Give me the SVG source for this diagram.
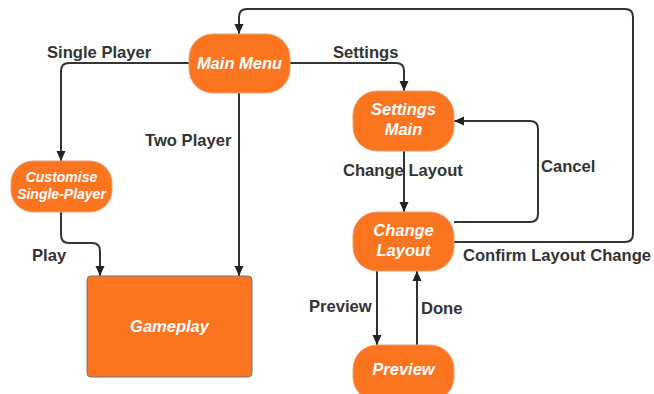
<svg xmlns="http://www.w3.org/2000/svg" width="654" height="394" viewBox="0 0 654 394">
<style>
.node{fill:#FB7420;stroke:#E8A070;stroke-width:1}
.nt{font-family:"Liberation Sans",Arial,sans-serif;font-weight:bold;font-style:italic;fill:#fff;text-anchor:middle}
.lbl{font-family:"Liberation Sans",Arial,sans-serif;font-weight:bold;font-size:16.6px;fill:#333}
.c{fill:none;stroke:#333;stroke-width:2}
</style>
<defs>
<marker id="ah" viewBox="0 0 10 10" refX="10" refY="5" markerWidth="10" markerHeight="10" markerUnits="userSpaceOnUse" orient="auto">
<path d="M0,0.5 L10,5 L0,9.5 Z" fill="#222"/>
</marker>
</defs>
<rect width="654" height="394" fill="#fff"/>
<g id="connectors">
<path class="c" marker-end="url(#ah)" d="M454,242 H625 Q633,242 633,234 V17 Q633,9 625,9 H247 Q239,9 239,17 V34"/>
<path class="c" marker-end="url(#ah)" d="M189,63 H69 Q61,63 61,71 V161"/>
<path class="c" marker-end="url(#ah)" d="M290,63 H396 Q404,63 404,71 V91"/>
<path class="c" marker-end="url(#ah)" d="M239,93 V276"/>
<path class="c" marker-end="url(#ah)" d="M61,212 V235 Q61,243 69,243 H92 Q100,243 100,251 V276"/>
<path class="c" marker-end="url(#ah)" d="M404,151 V212"/>
<path class="c" marker-end="url(#ah)" d="M454,222 H530 Q538,222 538,214 V129 Q538,121 530,121 H454"/>
<path class="c" marker-end="url(#ah)" d="M377,271 V345"/>
<path class="c" marker-end="url(#ah)" d="M417,345 V271"/>
</g>
<g id="labels">
<text class="lbl" x="47" y="58">Single Player</text>
<text class="lbl" x="333" y="58">Settings</text>
<text class="lbl" x="145" y="146">Two Player</text>
<text class="lbl" x="343" y="176">Change Layout</text>
<text class="lbl" x="541" y="172">Cancel</text>
<text class="lbl" x="32" y="261">Play</text>
<text class="lbl" x="463" y="261">Confirm Layout Change</text>
<text class="lbl" x="309" y="312">Preview</text>
<text class="lbl" x="421" y="314">Done</text>
</g>
<g id="main-menu">
<rect class="node" x="189" y="34" width="101" height="59" rx="24"/>
<text class="nt" x="239.5" y="69" font-size="16.5">Main Menu</text>
</g>
<g id="customise">
<rect class="node" x="11" y="161" width="101" height="51" rx="22"/>
<text class="nt" x="61.5" y="182" font-size="14">Customise</text>
<text class="nt" x="61.5" y="199" font-size="14">Single-Player</text>
</g>
<g id="gameplay">
<rect x="87" y="276" width="165" height="101" rx="4" fill="#FB7420" stroke="#777" stroke-width="1"/>
<text class="nt" x="169.5" y="332" font-size="16.5">Gameplay</text>
</g>
<g id="settings-main">
<rect class="node" x="353" y="91" width="101" height="60" rx="24"/>
<text class="nt" x="403.5" y="115" font-size="16.5">Settings</text>
<text class="nt" x="403.5" y="135" font-size="16.5">Main</text>
</g>
<g id="change-layout">
<rect class="node" x="353" y="212" width="101" height="59" rx="24"/>
<text class="nt" x="403.5" y="236" font-size="16.5">Change</text>
<text class="nt" x="403.5" y="256" font-size="16.5">Layout</text>
</g>
<g id="preview">
<rect class="node" x="353" y="345" width="101" height="56" rx="24"/>
<text class="nt" x="403.5" y="375" font-size="16.5">Preview</text>
</g>
</svg>
